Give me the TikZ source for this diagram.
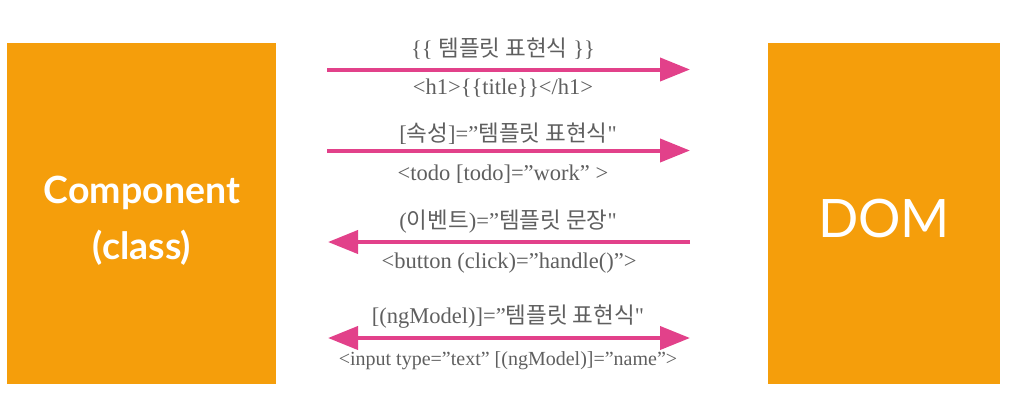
\documentclass[tikz,border=0pt]{standalone}
\usepackage{fontspec}
\setmainfont{Liberation Serif}
\newfontfamily\kr{Noto Sans CJK KR}
\newfontfamily\boxfont{Lato}
\usetikzlibrary{arrows.meta}
\definecolor{boxorange}{HTML}{F59E0B}
\definecolor{arrpink}{HTML}{E2418A}
\definecolor{txtgray}{HTML}{5F5F5F}
\begin{document}
\begin{tikzpicture}[x=1pt,y=-1pt,
  bigbox/.style={fill=boxorange, draw=none, inner sep=0pt},
  boxtxt/.style={text=white, inner sep=0pt, align=center},
  conn/.style={draw=arrpink, line width=4pt, -{Triangle[length=30pt,width=23pt]}},
  conn2/.style={draw=arrpink, line width=4pt, {Triangle[length=30pt,width=23pt]}-{Triangle[length=30pt,width=23pt]}},
  lbl/.style={text=txtgray, inner sep=0pt, font=\fontsize{22.5}{26}\selectfont},
  lbls/.style={text=txtgray, inner sep=0pt, font=\fontsize{20}{24}\selectfont}]
\useasboundingbox (0,0) rectangle (1014,400);
\node[bigbox, minimum width=269pt, minimum height=341pt] (comp) at (141.5,213.5) {};
\node[bigbox, minimum width=232pt, minimum height=341pt] (dom) at (884,213.5) {};
\node[boxtxt, font=\boxfont\bfseries\fontsize{37.5}{56}\selectfont] (comptxt) at (142,221) {Component\\(class)};
\node[boxtxt, font=\boxfont\fontsize{53}{60}\selectfont] (domtxt) at (884,218) {DOM};
% anchors of arrows
\coordinate (a1s) at (327,69.5); \coordinate (a1e) at (690,69.5);
\coordinate (a2s) at (327,150.5); \coordinate (a2e) at (690,150.5);
\coordinate (a3s) at (690,242); \coordinate (a3e) at (328,242);
\coordinate (a4s) at (328,338); \coordinate (a4e) at (690,338);
\draw[conn] (a1s) -- (a1e);
\draw[conn] (a2s) -- (a2e);
\draw[conn] (a3s) -- (a3e);
\draw[conn2] (a4s) -- (a4e);
\node[lbl] (t1) at (503,49) {\{\{ {\kr 템플릿 표현식} \}\}};
\node[lbl] (b1) at (503,88) {<h1>\{\{title\}\}</h1>};
\node[lbl] (t2) at (508,134) {[{\kr 속성}]=”{\kr 템플릿 표현식}\textquotedbl};
\node[lbl] (b2) at (503,174) {<todo [todo]=”work” >};
\node[lbl] (t3) at (508,222) {({\kr 이벤트})=”{\kr 템플릿 문장}\textquotedbl};
\node[lbl] (b3) at (509,263) {<button (click)=”handle()”>};
\node[lbl] (t4) at (508,317) {[(ngModel)]=”{\kr 템플릿 표현식}\textquotedbl};
\node[lbls] (b4) at (508,361) {<input type=”text” [(ngModel)]=”name”>};
\end{tikzpicture}
\end{document}
